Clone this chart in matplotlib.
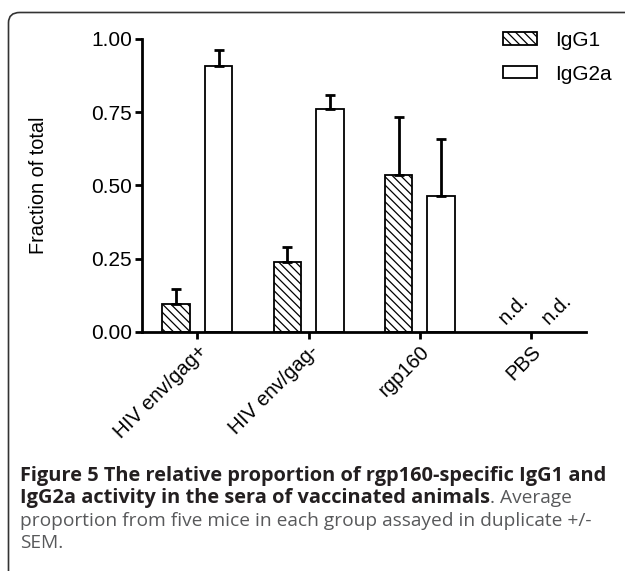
import numpy as np
import matplotlib
matplotlib.use('Agg')
import matplotlib.pyplot as plt
from matplotlib.patches import FancyBboxPatch

# данные
groups = ['HIV env/gag+', 'HIV env/gag-', 'rgp160', 'PBS']
igg1 = [0.095, 0.24, 0.537, 0.0]
igg1_err = [0.05, 0.05, 0.196, 0.0]
igg2a = [0.907, 0.76, 0.463, 0.0]
igg2a_err = [0.057, 0.05, 0.197, 0.0]
yticks = [0.0, 0.25, 0.5, 0.75, 1.0]
ytick_labels = ['0.00', '0.25', '0.50', '0.75', '1.00']

plt.rcParams['font.family'] = ['Liberation Sans', 'DejaVu Sans']
plt.rcParams['hatch.linewidth'] = 0.9

fig = plt.figure(figsize=(6.25, 5.71), dpi=100)
ax = fig.add_axes([0.227, 0.4186, 0.711, 0.5131])

x = np.arange(len(groups))
w = 0.25
off = 0.19

# PBS не определено - столбцы не рисуем
show = np.array([v > 0 for v in igg1])
ax.bar(x[show] - off, np.array(igg1)[show], w, facecolor='white', edgecolor='black',
       hatch='\\\\\\\\', linewidth=1.3, label='IgG1')
ax.bar(x[show] + off, np.array(igg2a)[show], w, facecolor='white', edgecolor='black',
       linewidth=1.3, label='IgG2a')
ax.errorbar(x[show] - off, np.array(igg1)[show],
            yerr=[np.zeros(show.sum()), np.array(igg1_err)[show]],
            fmt='none', ecolor='black', elinewidth=2, capsize=3.5, capthick=2)
ax.errorbar(x[show] + off, np.array(igg2a)[show],
            yerr=[np.zeros(show.sum()), np.array(igg2a_err)[show]],
            fmt='none', ecolor='black', elinewidth=2, capsize=3.5, capthick=2)

for i in np.where(~show)[0]:
    for dx in (-off, off):
        ax.text(x[i] + dx + 0.04, 0.015, 'n.d.', rotation=45, fontsize=14.5,
                ha='center', va='bottom')

ax.set_xlim(-0.5, 3.5)
ax.set_ylim(0, 1.0)
ax.set_yticks(yticks)
ax.set_yticklabels(ytick_labels, fontsize=15)
ax.set_xticks(x)
ax.set_xticklabels(groups, rotation=45, ha='right', rotation_mode='anchor', fontsize=14.5)
ax.set_ylabel('Fraction of total', fontsize=14.3)
ax.yaxis.set_label_coords(-0.212, 0.5)
for s in ['top', 'right']:
    ax.spines[s].set_visible(False)
for s in ['left', 'bottom']:
    ax.spines[s].set_linewidth(2)
ax.tick_params(width=2, length=5, pad=2)

leg = ax.legend(loc='upper left', bbox_to_anchor=(503 / 625, 1 - 31 / 571),
                bbox_transform=fig.transFigure, frameon=False, borderpad=0,
                borderaxespad=0, fontsize=15, handlelength=1.63, handleheight=0.53,
                labelspacing=0.7, handletextpad=0.87)

# рамка страницы со скругленным углом
frame = FancyBboxPatch((8.5 / 625, -0.2), 1.2, 1.2 - 12.5 / 571,
                       boxstyle='round,pad=0,rounding_size=0.018',
                       transform=fig.transFigure, facecolor='none',
                       edgecolor='#333333', linewidth=1.2)
fig.patches.append(frame)

# подпись
cap_font = ['Open Sans', 'DejaVu Sans']
fs = {'bold': 14.4, 'normal': 13.8}
fig.canvas.draw()
r = fig.canvas.get_renderer()
lines = [
    [('Figure 5 The relative proportion of rgp160-specific IgG1 and', 'bold')],
    [('IgG2a activity in the sera of vaccinated animals', 'bold'), ('. Average', 'normal')],
    [('proportion from five mice in each group assayed in duplicate +/-', 'normal')],
    [('SEM.', 'normal')],
]
ys = [476, 498, 521, 543]
for parts, yp in zip(lines, ys):
    xp = 20
    for txt, wt in parts:
        col = '#231f20' if wt == 'bold' else '#58595b'
        t = fig.text(xp / 625, 1 - yp / 571, txt, fontsize=fs[wt], fontweight=wt,
                     family=cap_font, color=col, va='baseline', ha='left')
        t.set_y(1 - (yp + 5) / 571)
        bb = t.get_window_extent(renderer=r)
        xp = bb.x1

fig.savefig('out.png', dpi=100)
